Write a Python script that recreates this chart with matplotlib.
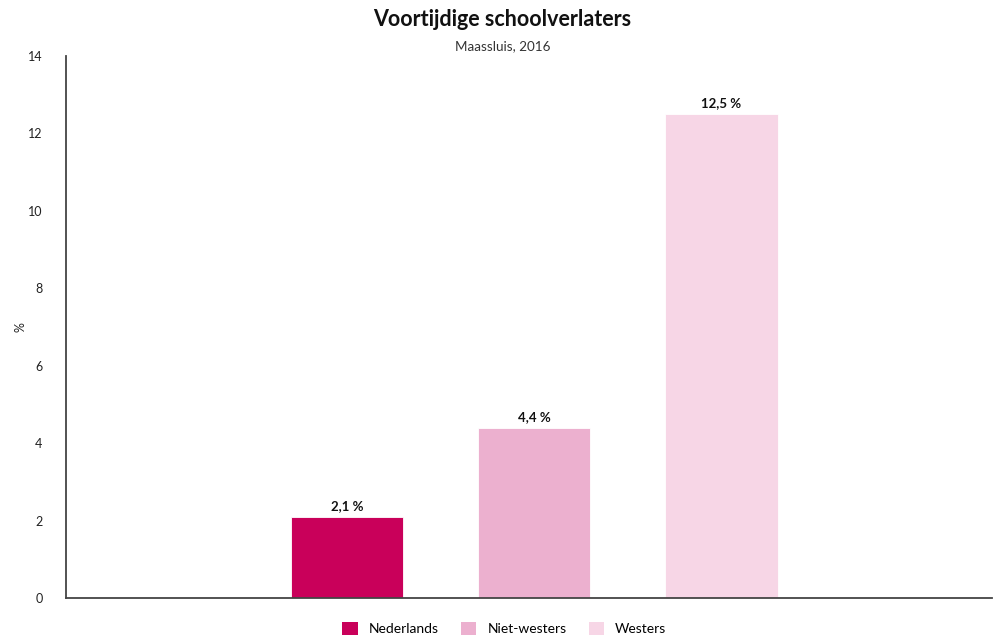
import matplotlib
matplotlib.use("Agg")
import matplotlib.pyplot as plt
from matplotlib.patches import Patch

plt.rcParams['font.family'] = ['Lato', 'DejaVu Sans']

# data
categories = ["Nederlands", "Niet-westers", "Westers"]
values = [2.1, 4.4, 12.5]
colors = ["#c9005a", "#ecb0cf", "#f7d6e6"]
yticks = [0, 2, 4, 6, 8, 10, 12, 14]

fig = plt.figure(figsize=(9.93, 6.38), dpi=100)
ax = fig.add_axes([0.0665, 0.0627, 0.9325, 0.8495])

x = list(range(len(categories)))
bars = ax.bar(x, values, width=0.6, color=colors, edgecolor="white", linewidth=0.6, zorder=2)

for xi, v in zip(x, values):
    ax.text(xi, v + 0.12, f"{v:.1f} %".replace(".", ","), ha="center", va="bottom",
            fontsize=9.5, fontweight="bold", color="#111111")

ax.set_xlim(-1.499, 3.445)
ax.set_ylim(0, 14)
ax.set_yticks(yticks)
ax.set_yticklabels([str(t) for t in yticks], fontsize=9, color="#222222")
ax.set_xticks([])
ax.tick_params(axis="y", length=0, pad=17)
ax.set_ylabel("%", fontsize=9, color="#222222")
ax.yaxis.set_label_coords(-0.043, 0.5)

for s in ["top", "right"]:
    ax.spines[s].set_visible(False)
for s in ["left", "bottom"]:
    ax.spines[s].set_color("#444444")
    ax.spines[s].set_linewidth(1.3)

fig.text(0.506, 0.97, "Voortijdige schoolverlaters", ha="center", va="center",
         fontsize=15.5, fontweight="bold", color="#111111")
fig.text(0.506, 0.927, "Maassluis, 2016", ha="center", va="center",
         fontsize=9.7, color="#333333")

handles = [Patch(facecolor=c, edgecolor="none") for c in colors]
fig.legend(handles, categories, loc="center", bbox_to_anchor=(0.508, 0.015), ncol=3,
           frameon=False, fontsize=10, handlelength=1.1, handleheight=1.1,
           columnspacing=1.6, handletextpad=0.8)

fig.savefig("out.png", dpi=100)
